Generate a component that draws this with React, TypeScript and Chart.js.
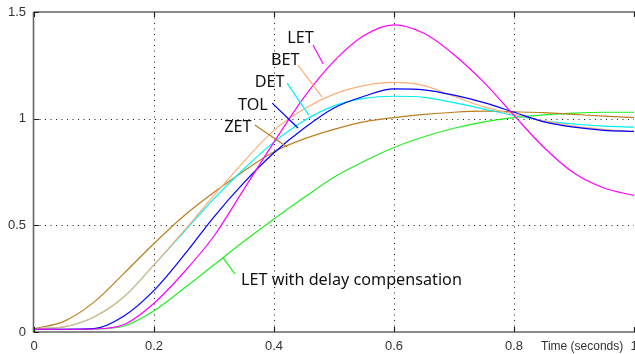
import React, { useEffect, useRef } from "react";
import { Chart, registerables } from "chart.js";

Chart.register(...registerables);

const times = [0, 0.05, 0.1, 0.15, 0.2, 0.25, 0.3, 0.35, 0.4, 0.45, 0.5, 0.55, 0.6, 0.65, 0.7, 0.75, 0.8, 0.85, 0.9, 0.95, 1.0];

const letValues = [0.013, 0.013, 0.014, 0.035, 0.135, 0.28, 0.45, 0.67, 0.89, 1.10, 1.27, 1.39, 1.44, 1.40, 1.30, 1.17, 1.015, 0.865, 0.745, 0.675, 0.64];
const betValues = [0.015, 0.024, 0.07, 0.165, 0.315, 0.475, 0.64, 0.80, 0.945, 1.045, 1.115, 1.155, 1.17, 1.155, 1.105, 1.055, 1.02, 0.99, 0.965, 0.95, 0.94];
const detValues = [0.015, 0.024, 0.07, 0.165, 0.315, 0.47, 0.625, 0.765, 0.89, 0.99, 1.06, 1.095, 1.105, 1.10, 1.075, 1.045, 1.015, 0.99, 0.975, 0.965, 0.96];
const tolValues = [0.013, 0.013, 0.016, 0.075, 0.195, 0.36, 0.54, 0.70, 0.84, 0.955, 1.05, 1.105, 1.14, 1.135, 1.11, 1.075, 1.03, 0.985, 0.96, 0.945, 0.94];
const zetValues = [0.015, 0.05, 0.14, 0.275, 0.415, 0.545, 0.655, 0.755, 0.845, 0.905, 0.95, 0.985, 1.005, 1.02, 1.03, 1.035, 1.032, 1.028, 1.02, 1.012, 1.005];
const letDelayValues = [0.013, 0.013, 0.014, 0.028, 0.10, 0.205, 0.315, 0.425, 0.53, 0.63, 0.725, 0.80, 0.865, 0.915, 0.955, 0.985, 1.005, 1.018, 1.026, 1.03, 1.03];

const xTicks = [0, 0.2, 0.4, 0.6, 0.8, 1];
const xTickLabels = ["0", "0.2", "0.4", "0.6", "0.8", "1"];
const yTicks = [0, 0.5, 1, 1.5];
const yTickLabels = ["0", "0.5", "1", "1.5"];
const xAxisTitle = "Time (seconds)";

// first dataset is drawn on top
const seriesNames = ["LET", "TOL", "BET", "DET", "ZET", "LET with delay compensation"];
const seriesColors = ["#ff00ff", "#0000ff", "#fbb07a", "#00f0f0", "#bb7f20", "#22ee22"];
const seriesValues = [letValues, tolValues, betValues, detValues, zetValues, letDelayValues];

// label annotations: text position (data coords) and leader line (data coords)
const annotations = [
  { text: "LET", color: "#ff00ff", tx: 0.422, ty: 1.354, x1: 0.465, y1: 1.345, x2: 0.482, y2: 1.256 },
  { text: "BET", color: "#fbb07a", tx: 0.395, ty: 1.251, x1: 0.44, y1: 1.251, x2: 0.48, y2: 1.101 },
  { text: "DET", color: "#00f0f0", tx: 0.368, ty: 1.148, x1: 0.422, y1: 1.167, x2: 0.458, y2: 1.017 },
  { text: "TOL", color: "#0000ff", tx: 0.34, ty: 1.04, x1: 0.397, y1: 1.073, x2: 0.44, y2: 0.956 },
  { text: "ZET", color: "#bb7f20", tx: 0.317, ty: 0.937, x1: 0.368, y1: 0.97, x2: 0.422, y2: 0.867 },
  { text: "LET with delay compensation", color: "#22ee22", tx: 0.345, ty: 0.22, x1: 0.315, y1: 0.347, x2: 0.335, y2: 0.272 },
];

const overlayPlugin = {
  id: "overlay",
  beforeDatasetsDraw(chart: any) {
    const { ctx, chartArea } = chart;
    const xs = chart.scales.x;
    const ys = chart.scales.y;
    ctx.save();
    ctx.strokeStyle = "#1a1a1a";
    ctx.lineWidth = 1;
    ctx.setLineDash([1, 4.5]);
    xTicks.forEach((t) => {
      if (t <= 0 || t >= 1) return;
      const px = Math.round(xs.getPixelForValue(t)) + 0.5;
      ctx.beginPath();
      ctx.moveTo(px, chartArea.top);
      ctx.lineTo(px, chartArea.bottom);
      ctx.stroke();
    });
    yTicks.forEach((v) => {
      if (v <= 0 || v >= 1.5) return;
      const py = Math.round(ys.getPixelForValue(v)) + 0.5;
      ctx.beginPath();
      ctx.moveTo(chartArea.left, py);
      ctx.lineTo(chartArea.right, py);
      ctx.stroke();
    });
    ctx.restore();
  },
  afterDatasetsDraw(chart: any) {
    const { ctx, chartArea } = chart;
    const xs = chart.scales.x;
    const ys = chart.scales.y;
    ctx.save();
    // axes frame
    ctx.strokeStyle = "#666666";
    ctx.lineWidth = 1.6;
    ctx.beginPath();
    ctx.moveTo(chartArea.left - 0.5, chartArea.top);
    ctx.lineTo(chartArea.right + 2, chartArea.top);
    ctx.moveTo(chartArea.left - 0.5, chartArea.top);
    ctx.lineTo(chartArea.left - 0.5, chartArea.bottom);
    ctx.lineTo(chartArea.right + 2, chartArea.bottom);
    ctx.stroke();
    // ticks
    ctx.strokeStyle = "#222222";
    ctx.lineWidth = 1.2;
    ctx.beginPath();
    xTicks.forEach((t) => {
      const px = Math.round(xs.getPixelForValue(t)) + 0.5;
      ctx.moveTo(px, chartArea.bottom);
      ctx.lineTo(px, chartArea.bottom - 5);
      ctx.moveTo(px, chartArea.top);
      ctx.lineTo(px, chartArea.top + 5);
    });
    yTicks.forEach((v) => {
      const py = Math.round(ys.getPixelForValue(v)) + 0.5;
      ctx.moveTo(chartArea.left, py);
      ctx.lineTo(chartArea.left + 5, py);
    });
    ctx.stroke();
    // tick labels
    ctx.fillStyle = "#333333";
    ctx.font = "13px 'Liberation Sans', Arial, sans-serif";
    ctx.textAlign = "right";
    ctx.textBaseline = "middle";
    yTicks.forEach((v, i) => {
      ctx.fillText(yTickLabels[i], chartArea.left - 8, ys.getPixelForValue(v));
    });
    ctx.textAlign = "center";
    ctx.textBaseline = "alphabetic";
    xTicks.forEach((t, i) => {
      ctx.fillText(xTickLabels[i], xs.getPixelForValue(t), chartArea.bottom + 18);
    });
    ctx.font = "12px 'Liberation Sans', Arial, sans-serif";
    ctx.textAlign = "left";
    ctx.fillText(xAxisTitle, xs.getPixelForValue(0.845), chartArea.bottom + 18);
    // annotations
    ctx.font = "16.2px 'Noto Sans', sans-serif";
    ctx.textAlign = "left";
    ctx.textBaseline = "alphabetic";
    annotations.forEach((a) => {
      ctx.strokeStyle = a.color;
      ctx.lineWidth = 1.2;
      ctx.beginPath();
      ctx.moveTo(xs.getPixelForValue(a.x1), ys.getPixelForValue(a.y1));
      ctx.lineTo(xs.getPixelForValue(a.x2), ys.getPixelForValue(a.y2));
      ctx.stroke();
      ctx.fillStyle = "#111111";
      ctx.fillText(a.text, xs.getPixelForValue(a.tx), ys.getPixelForValue(a.ty));
    });
    ctx.restore();
  },
};

export default function App() {
  const canvasRef = useRef<HTMLCanvasElement | null>(null);

  useEffect(() => {
    document.body.style.margin = "0";
    const canvas = canvasRef.current;
    if (!canvas) return;
    const chart = new Chart(canvas, {
      type: "line",
      data: {
        datasets: seriesNames.map((name, i) => ({
          label: name,
          data: times.map((t, j) => ({ x: t, y: seriesValues[i][j] })),
          borderColor: seriesColors[i],
          backgroundColor: seriesColors[i],
          borderWidth: 1.2,
          pointRadius: 0,
          cubicInterpolationMode: "monotone" as const,
          fill: false,
        })),
      },
      options: {
        animation: false,
        responsive: false,
        maintainAspectRatio: false,
        devicePixelRatio: 1,
        layout: { padding: { top: 12, right: 1, left: 0, bottom: 0 } },
        plugins: { legend: { display: false }, tooltip: { enabled: false } },
        scales: {
          x: {
            type: "linear",
            min: 0,
            max: 1,
            ticks: { display: false },
            grid: { display: false },
            border: { display: false },
            afterFit: (s: any) => { s.height = 22; },
          },
          y: {
            type: "linear",
            min: 0,
            max: 1.5,
            ticks: { display: false },
            grid: { display: false },
            border: { display: false },
            afterFit: (s: any) => { s.width = 34; },
          },
        },
      },
      plugins: [overlayPlugin],
    });
    return () => chart.destroy();
  }, []);

  return (
    <div style={{ position: "fixed", left: 0, top: 0, width: 635, height: 354, background: "#fff" }}>
      <canvas ref={canvasRef} width={635} height={354} style={{ width: 635, height: 354, display: "block" }} />
    </div>
  );
}
